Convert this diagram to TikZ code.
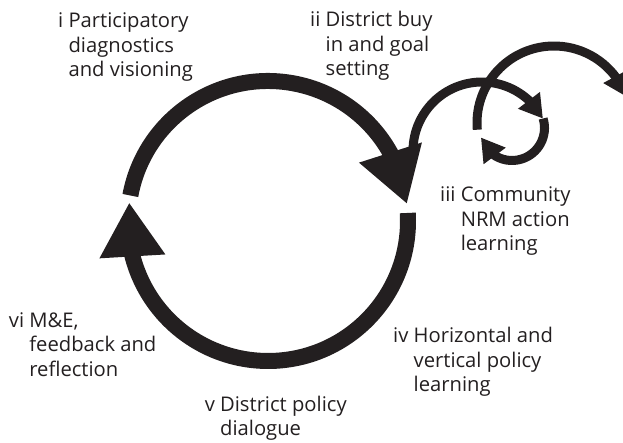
\documentclass[tikz,border=0pt]{standalone}
\usepackage{fontspec}
\setmainfont{Open Sans}
\usetikzlibrary{arrows.meta,bending}
\definecolor{inkblack}{HTML}{231F20}
\newcommand{\steptext}[2]{\begin{tabular}[t]{@{}l@{\ }l@{}}#1 & #2\end{tabular}}

\tikzset{
	steplabel/.style={anchor=base west, inner sep=0pt, text=inkblack, font=\fontsize{20.2}{24.5}\selectfont},
	bigloop/.style={draw=inkblack, line width=16pt, -{Triangle[length=54pt,width=62pt,flex]}},
	smallloop/.style={draw=inkblack, line width=9pt, -{Triangle[length=23pt,width=26pt,flex]}}
}

\begin{document}
\begin{tikzpicture}[x=1pt, y=1pt]
	\useasboundingbox (0,0) rectangle (623,442);
	\clip (0,0) rectangle (623,442);
	\coordinate (bigcentre)	at	(268, 221);
	\coordinate (outcentre)	at	(482, 291);
	\coordinate (loopcentre)	at	(512, 314);
	\coordinate (awaycentre)	at	(554, 319);
		\draw[smallloop] (outcentre) ++(185:69) arc[start angle=185, end angle=28, radius=69];
		\draw[smallloop] (awaycentre) ++(185:77) arc[start angle=185, end angle=20, radius=77];
		\draw[smallloop] (loopcentre) ++(17:32.5) arc[start angle=17, end angle=-163, radius=32.5];
		\draw[bigloop] (bigcentre) ++(169.5:140) arc[start angle=169.5, end angle=7, radius=140];
		\draw[bigloop] (bigcentre) ++(3.3:140) arc[start angle=3.3, end angle=-187.6, radius=140];
	\node[steplabel] (diagnostics)	at	(58, 414)	{\steptext{i}{Participatory\\ & diagnostics\\ & and visioning}};
	\node[steplabel] (buyin)		at	(310, 415)	{\steptext{ii}{District buy\\ & in and goal\\ & setting}};
	\node[steplabel] (community)	at	(440, 240)	{\steptext{iii}{Community\\ & NRM action\\ & learning}};
	\node[steplabel] (horizontal)	at	(393, 99.3)	{\steptext{iv}{Horizontal and\\ & vertical policy\\ & learning}};
	\node[steplabel] (dialogue)		at	(204.6, 31)	{\steptext{v}{District policy\\ & dialogue}};
	\node[steplabel] (feedback)		at	(8.7, 115)	{\steptext{vi}{M\&E,\\ & feedback and\\ & reflection}};
\end{tikzpicture}
\end{document}
